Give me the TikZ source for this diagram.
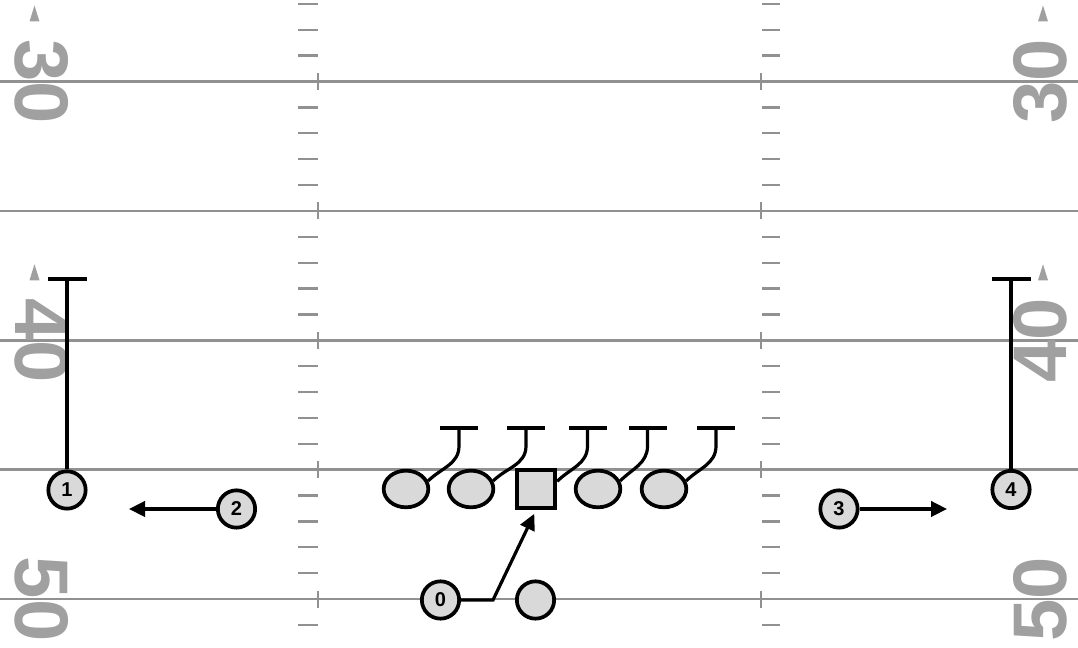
\documentclass[tikz,border=0pt]{standalone}
\usepackage{fontspec}
\setmainfont{Liberation Sans}
\usetikzlibrary{shapes.geometric,arrows.meta,calc}
\definecolor{linegray}{RGB}{145,145,145}
\definecolor{numgray}{RGB}{160,160,160}
\definecolor{playerfill}{RGB}{217,217,217}
\tikzset{
  yardline/.style={linegray,line width=2pt},
  hashmark/.style={linegray,line width=1.7pt},
  yardnum/.style={numgray,font=\fontsize{57}{57}\selectfont\bfseries,inner sep=0pt},
  player/.style={circle,draw,line width=2.8pt,fill=playerfill,minimum size=28pt,inner sep=0pt,font=\fontsize{15}{15}\selectfont\bfseries},
  lineman/.style={ellipse,draw,line width=2.8pt,fill=playerfill,minimum width=33.5pt,minimum height=27.5pt,inner sep=0pt},
  snapbox/.style={rectangle,draw,line width=2.8pt,fill=playerfill,minimum size=29pt,inner sep=0pt},
  route/.style={line width=2.4pt},
  arrowroute/.style={route,-{Triangle[length=12pt,width=11.5pt]}}
}
\begin{document}
\begin{tikzpicture}[x=0.75pt,y=0.75pt]
\useasboundingbox (0,0) rectangle (1078,648);
\fill[white] (0,0) rectangle (1078,648);
% field: yard lines and hash marks
\begin{scope}
\clip (0,0) rectangle (1078,648);
\foreach \k in {0,...,4} {
  \draw[yardline] (0,48.9+129.4*\k) -- (1078,48.9+129.4*\k);
  \draw[hashmark] (318,40.4+129.4*\k) -- (318,57.4+129.4*\k);
  \draw[hashmark] (761,40.4+129.4*\k) -- (761,57.4+129.4*\k);
}
\foreach \k in {-1,...,4} \foreach \j in {1,...,4} {
  \draw[hashmark] (298,48.9+129.4*\k+25.88*\j) -- (318,48.9+129.4*\k+25.88*\j);
  \draw[hashmark] (762,48.9+129.4*\k+25.88*\j) -- (780,48.9+129.4*\k+25.88*\j);
}
\end{scope}
% yard numbers
\foreach \t/\y in {30/566.5,40/307.7,50/48.9} {
  \node[yardnum,rotate=-90] (numL\t) at (41.5,\y) {\t};
  \node[yardnum,rotate=90] (numR\t) at (1040,\y) {\t};
}
\foreach \y in {566.5,307.7} {
  \fill[numgray] (34.5,\y+76) -- (29.5,\y+60) -- (39.5,\y+60) -- cycle;
  \fill[numgray] (1043,\y+76) -- (1038,\y+60) -- (1048,\y+60) -- cycle;
}
% players
\node[player] (r1) at (67,158) {1};
\node[player] (r2) at (236.5,139) {2};
\node[player] (r3) at (839,139) {3};
\node[player] (r4) at (1011,158.5) {4};
\node[player] (b0) at (440.5,48) {0};
\node[player] (b1) at (535.5,48) {};
\foreach \n/\x in {l1/406,l2/471,l4/598,l5/664} \node[lineman] (\n) at (\x,159) {};
\node[snapbox] (snap) at (536,159) {};
% routes
\coordinate (r1top) at (67,369);
\coordinate (r4top) at (1011,369);
\foreach \n in {r1,r4} {
  \draw[route] (\n) -- (\n top);
  \draw[route] (\n top) ++(-19.5,0) -- ++(39,0);
}
\coordinate (r2end) at (129,139);
\coordinate (r3end) at (947,139);
\draw[arrowroute] (r2) -- (r2end);
\draw[arrowroute] (r3) -- (r3end);
\coordinate (b0turn) at (493,48);
\draw[arrowroute,shorten >=3pt] (b0) -- (b0turn) -- (snap.south);
% blocks
\foreach \n/\d in {l1/53,l2/55,snap/51.5,l4/49.5,l5/52} {
  \coordinate (\n-blk) at ($(\n)+(\d,61)$);
  \draw[route] (\n.20) to[out=45,in=-90] ($(\n-blk)+(0,-18)$) -- (\n-blk);
  \draw[route] (\n-blk) ++(-19,0) -- ++(38,0);
}
\end{tikzpicture}
\end{document}
